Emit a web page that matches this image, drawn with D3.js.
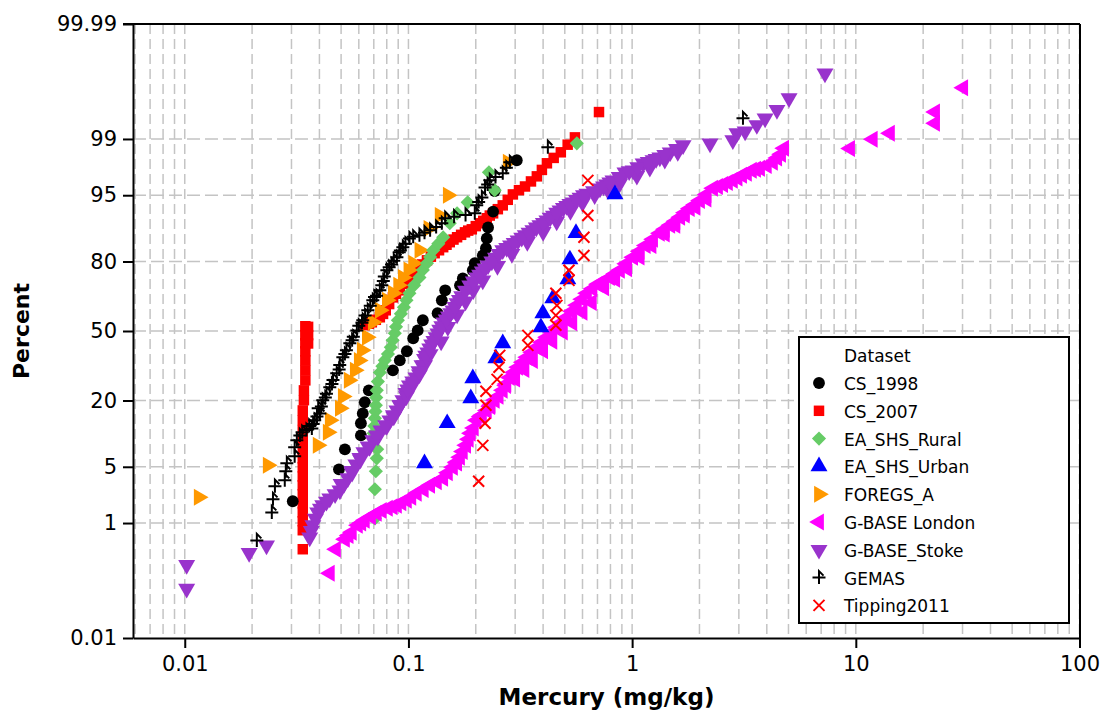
<!DOCTYPE html>
<html>
<head>
<meta charset="utf-8">
<script src="https://cdn.jsdelivr.net/npm/d3@7"></script>
<style>
body { margin: 0; background: #fff; }
text { font-family: "DejaVu Sans", Verdana, sans-serif; }
</style>
</head>
<body>
<div id="chart"></div>
<script>
// each point: [mercury mg/kg, cumulative percent]
var cs1998 = [[0.0304,1.96],[0.0489,4.69],[0.0520,7.59],[0.0613,10.3],[0.0613,13.2],[0.0625,15.9],[0.0638,19.4],[0.0665,23.6],
    [0.0852,31.7],[0.0915,36.1],[0.0984,40.3],[0.105,46.5],[0.110,50.3],[0.116,55.2],[0.135,58.5],[0.141,64.5],[0.146,68.9],
    [0.170,71.0],[0.175,73.8],[0.194,76.9],[0.198,79.4],[0.215,82.0],[0.222,84.2],[0.224,86.9],[0.227,89.5],[0.239,92.6],
    [0.243,95.5],[0.305,98.07]];

var cs2007 = [[0.0337,0.41],[0.0337,0.79],[0.0337,1.06],[0.0337,1.4],[0.0337,1.84],[0.0337,2.4],[0.0337,3.08],[0.0337,3.9],
    [0.0337,4.94],[0.0337,6.15],[0.0337,7.59],[0.0337,9.28],[0.0337,11.5],[0.0337,14.0],[0.0337,16.8],[0.0341,20.1],
    [0.0341,23.6],[0.0346,27.5],[0.0346,31.7],[0.0346,36.1],[0.0346,40.3],[0.0346,44.1],[0.0346,47.9],[0.0346,52.3],
    [0.0356,44.0],[0.0356,48.0],[0.0356,52.0],
    [0.0638,52.8],[0.0686,54.2],[0.0745,56.6],[0.0792,59.9],[0.0852,65.8],[0.0915,68.9],[0.101,74.2],[0.110,77.6],
    [0.121,80.4],[0.131,82.7],[0.143,84.5],[0.153,85.9],[0.165,87.2],[0.179,88.4],[0.192,89.1],[0.209,90.4],[0.224,91.4],
    [0.239,92.3],[0.264,93.6],[0.293,95.1],[0.332,96.0],[0.375,96.95],[0.416,97.89],[0.480,98.48],[0.555,99.05],[0.711,99.60],
    [0.0665,53.5],[0.0715,55.4],[0.077,58.2],[0.082,62.8],[0.088,67.4],[0.096,71.6],[0.105,76.0],[0.115,79.0],[0.126,81.6],
    [0.137,83.6],[0.148,85.2],[0.159,86.6],[0.172,87.8],[0.185,88.8],[0.200,89.8],[0.216,90.9],[0.231,91.9],[0.251,93.0],
    [0.278,94.4],[0.312,95.6],[0.353,96.5],[0.395,97.45],[0.446,98.2],[0.515,98.8]];

var eaRural = [[0.0708,1.16],[0.0708,2.76],[0.0715,4.46],[0.0722,6.15],[0.0725,7.6],[0.0700,10.8],[0.0704,12.5],[0.0708,14.5],
    [0.0712,16.5],[0.0715,18.4],[0.0718,21.0],[0.0722,23.6],[0.0730,27.0],[0.0745,30.8],[0.0765,33.5],[0.0784,36.1],
    [0.0810,39.0],[0.0834,42.2],[0.0850,45.5],[0.0869,48.9],[0.0880,52.0],[0.0897,55.2],[0.0925,58.3],[0.0954,61.3],
    [0.098,64.5],[0.101,67.6],[0.106,71.0],[0.112,74.2],[0.116,77.0],[0.121,79.4],[0.125,81.5],[0.129,83.6],[0.136,85.5],
    [0.143,87.2],[0.153,90.4],[0.165,92.3],[0.184,94.05],[0.243,95.6],[0.229,97.27],[0.566,98.85]];

var eaUrban = [[0.118,5.45],[0.149,13.2],[0.190,20.7],[0.194,28.3],[0.246,37.0],[0.264,44.1],[0.391,51.8],[0.399,58.5],
    [0.442,65.4],[0.516,73.4],[0.527,80.7],[0.561,88.2],[0.838,95.1]];

var foregsA = [[0.01155,2.20],[0.0235,5.19],[0.0393,8.30],[0.0436,11.0],[0.0445,14.0],[0.0494,17.5],[0.0509,21.4],[0.0541,27.5],
    [0.0576,31.7],[0.0600,36.0],[0.0619,40.8],[0.0652,47.0],[0.0693,54.2],[0.0745,59.9],[0.0801,64.5],[0.0852,67.6],
    [0.090,71.0],[0.0944,74.2],[0.100,77.0],[0.105,79.4],[0.112,83.6],[0.123,89.3],[0.138,91.9],[0.150,95.0],[0.278,97.95]];

var gbLondon = [[0.0445,0.167],[0.0474,0.41],[0.0520,0.58],[0.0558,0.74],[0.0594,0.93],[0.0638,1.09],[0.0722,1.36],[0.0809,1.59],
    [0.0888,1.74],[0.0984,2.01],[0.109,2.46],[0.125,3.08],[0.143,3.72],[0.158,4.94],[0.170,6.30],[0.181,8.30],[0.190,10.8],
    [0.202,14.0],[0.224,16.8],[0.243,20.1],[0.264,23.6],[0.284,28.7],[0.309,33.0],[0.339,37.5],[0.375,42.2],[0.416,47.0],
    [0.461,51.8],[0.511,56.6],[0.566,62.2],[0.628,67.6],[0.703,71.4],[0.796,74.2],[0.882,76.9],[1.01,81.4],[1.15,85.0],
    [1.33,88.2],[1.48,90.0],[1.64,91.6],[1.81,93.1],[2.01,94.3],[2.30,95.8],[2.55,96.2],[2.82,96.6],[3.10,97.04],
    [3.43,97.42],[3.73,97.56],[4.26,97.95],[4.63,98.39],[4.78,98.66],
    [0.165,5.5],[0.175,7.2],[0.186,9.5],[0.196,12.0],[0.210,15.0],[0.232,18.0],[0.253,21.5],[0.273,25.5],[0.300,28.0],
    [0.330,32.0],[0.360,36.0],[0.400,40.5],[0.440,45.0],[0.490,49.5],[0.540,54.0],[0.600,59.0],[0.660,63.5],[0.750,70.0],
    [0.840,73.5],[0.950,77.5],[1.08,81.5],[1.22,85.0],[1.40,88.0],[1.56,90.0],[1.72,92.0],[1.92,93.3],[2.15,94.5],
    [0.0540,0.66],[0.0615,1.0],[0.068,1.22],[0.076,1.48],[0.085,1.66],[0.093,1.88],[0.103,2.2],[0.117,2.75],[0.134,3.4],
    [0.150,4.3],[0.164,5.6],[0.213,15.4],[0.233,18.4],[0.274,26.0],[0.296,30.8],[0.324,35.2],[0.357,39.8],[0.395,44.6],
    [0.438,49.4],[0.486,54.2],[0.538,59.4],[0.597,65.0],[0.665,69.6],[0.750,72.8],[0.840,75.6],[0.940,79.2],[1.08,83.3],
    [1.24,86.7],[1.40,89.1],[1.56,90.8],[1.72,92.4],[1.91,93.7],[2.15,95.1],[2.42,96.0],[2.68,96.4],[2.96,96.8],
    [3.26,97.2],[3.58,97.5],[4.00,97.75],[4.45,98.2],
    [9.42,98.65],[11.9,98.99],[14.2,99.17],[22.6,99.41],[22.6,99.60],[30.2,99.84]];

var gbStoke = [[0.0102,0.23],[0.0102,0.090],[0.0194,0.36],[0.0232,0.47],[0.0362,0.62],[0.0374,0.93],[0.0393,1.40],[0.0414,1.74],
    [0.0445,2.13],[0.0494,2.68],[0.0536,3.72],[0.0582,5.32],[0.0632,7.09],[0.0693,9.28],[0.0753,11.45],[0.0826,13.97],
    [0.0888,16.8],[0.0944,20.1],[0.0975,22.7],[0.101,25.5],[0.108,28.7],[0.115,33.9],[0.118,36.8],[0.122,39.8],[0.127,43.5],
    [0.133,47.0],[0.138,50.6],[0.144,54.2],[0.151,57.0],[0.158,59.9],[0.165,63.2],[0.173,66.3],[0.188,71.0],[0.202,74.2],
    [0.214,76.5],[0.227,78.7],[0.245,81.3],[0.264,83.6],[0.286,85.0],[0.309,86.4],[0.333,87.7],[0.360,88.9],[0.387,90.0],
    [0.416,91.0],[0.445,91.9],[0.476,92.8],[0.510,93.5],[0.544,94.05],[0.585,94.7],[0.628,95.2],[0.718,95.8],[0.770,96.2],
    [0.821,96.6],[0.929,97.27],[1.01,97.42],[1.12,97.89],[1.24,98.07],[1.33,98.23],[1.48,98.48],[1.69,98.78],
    [0.050,3.2],[0.056,4.3],[0.061,6.0],[0.067,8.0],[0.073,10.0],[0.080,12.5],[0.086,15.0],[0.092,18.5],[0.098,21.5],
    [0.105,26.0],[0.112,30.0],[0.118,34.0],[0.125,39.0],[0.140,45.0],[0.150,52.0],[0.165,58.0],[0.180,64.0],[0.195,69.0],
    [0.215,73.0],[0.250,78.5],[0.290,82.5],[0.340,86.0],[0.400,88.5],[0.460,90.8],[0.530,92.7],[0.600,94.0],[0.680,95.0],
    [0.780,95.6],[0.880,96.3],[1.05,97.0],[1.20,97.6],[1.40,98.1],[1.60,98.5],
    [0.0368,0.77],[0.0384,1.15],[0.0404,1.57],[0.0430,1.93],[0.047,2.4],[0.0515,3.2],[0.056,4.5],[0.0607,6.2],[0.066,8.1],
    [0.072,10.3],[0.079,12.7],[0.0857,15.4],[0.0916,18.4],[0.0992,24.0],[0.1045,27.1],[0.1115,31.3],[0.1195,38.3],
    [0.1245,41.6],[0.130,45.2],[0.1355,48.8],[0.141,52.4],[0.1475,55.6],[0.1545,58.5],[0.1615,61.5],[0.169,64.7],
    [0.180,68.7],[0.195,72.6],[0.208,75.3],[0.220,77.6],[0.236,80.0],[0.254,82.5],[0.275,84.3],[0.297,85.7],[0.321,87.1],
    [0.346,88.3],[0.373,89.5],[0.401,90.5],[0.430,91.5],[0.460,92.4],[0.493,93.2],[0.527,93.8],[0.564,94.4],[0.606,95.0],
    [0.672,95.5],[0.745,96.0],[0.795,96.4],[0.875,96.9],[0.97,97.35],[1.06,97.65],[1.18,97.98],[1.28,98.15],[1.40,98.35],
    [1.58,98.63],
    [2.23,98.85],[2.82,98.96],[2.94,99.17],[3.20,99.22],[3.61,99.37],[3.93,99.50],[4.44,99.63],[5.03,99.76],[7.28,99.91]];

var gemas = [[0.0210,0.56],[0.0245,1.40],[0.0248,2.07],[0.0253,3.0],[0.0280,3.52],[0.0283,4.46],[0.0286,5.45],[0.0310,6.45],
    [0.0310,7.94],[0.0317,9.28],[0.0327,10.3],[0.0370,11.9],[0.0381,14.0],[0.0402,15.9],[0.0414,20.1],[0.0430,22.4],
    [0.0445,24.8],[0.0460,27.6],[0.0478,30.4],[0.0493,34.0],[0.0509,37.5],[0.0528,40.8],[0.0547,44.1],[0.0567,47.2],
    [0.0588,50.3],[0.0625,55.2],[0.0658,59.9],[0.0693,64.5],[0.0745,68.9],[0.0772,72.8],[0.0801,76.9],[0.0888,81.4],
    [0.0944,84.5],[0.101,86.9],[0.112,87.7],[0.125,88.9],[0.141,90.4],[0.146,91.4],[0.198,92.3],[0.202,93.6],[0.213,94.7],
    [0.220,95.9],[0.231,96.6],[0.264,97.2],[0.284,97.95],[0.420,98.70],[3.13,99.50],
    [0.0395,17.5],[0.0425,21.0],[0.0455,26.0],[0.0490,32.0],[0.0520,39.0],[0.0560,45.5],[0.0600,52.5],[0.0640,57.5],
    [0.0675,62.0],[0.0720,66.5],[0.0780,74.5],[0.0840,79.0],[0.0910,83.0],[0.0970,85.5],
    [0.0335,11.0],[0.0350,11.5],[0.0360,12.5],[0.0375,13.0],[0.0390,15.0],[0.0408,18.0],[0.0620,54.0],[0.0705,66.0],
    [0.0760,71.0],[0.0820,78.0],[0.0860,80.3],[0.0920,83.5],[0.105,87.3],[0.118,88.3],[0.133,89.6],[0.160,91.7],
    [0.180,92.0],[0.206,94.1],[0.226,96.2],[0.245,96.9],[0.274,97.6]];

var tipping2011 = [[0.206,3.43],[0.215,8.30],[0.220,13.2],[0.222,18.4],[0.222,23.3],[0.249,27.9],[0.254,33.0],[0.256,38.4],
    [0.342,43.1],[0.342,47.9],[0.456,52.8],[0.456,57.5],[0.461,62.2],[0.456,67.6],[0.522,73.0],[0.522,76.9],[0.609,82.0],
    [0.609,87.2],[0.634,91.9],[0.634,96.6]];

var seriesNames = ["CS_1998","CS_2007","EA_SHS_Rural","EA_SHS_Urban","FOREGS_A","G-BASE London","G-BASE_Stoke","GEMAS","Tipping2011"];
var seriesData = [cs1998, cs2007, eaRural, eaUrban, foregsA, gbLondon, gbStoke, gemas, tipping2011];
var seriesColors = ["#000000","#ff0000","#66cc66","#0000ff","#ff9900","#ff00ff","#9933cc","#000000","#ff0000"];
var seriesShapes = ["circle","square","diamond","up","right","left","down","plus","cross"];
var drawOrder = [1, 4, 0, 2, 5, 6, 7, 3, 8];

var xTicks = [0.01, 0.1, 1, 10, 100];
var xTickLabels = ["0.01", "0.1", "1", "10", "100"];
var yTicks = [0.01, 1, 5, 20, 50, 80, 95, 99, 99.99];
var yTickLabels = ["0.01", "1", "5", "20", "50", "80", "95", "99", "99.99"];

// inverse normal cdf (Acklam) for the probability axis
function probit(p) {
    var a = [-3.969683028665376e+01, 2.209460984245205e+02, -2.759285104469687e+02, 1.383577518672690e+02, -3.066479806614716e+01, 2.506628277459239e+00];
    var b = [-5.447609879822406e+01, 1.615858368580409e+02, -1.556989798598866e+02, 6.680131188771972e+01, -1.328068155288572e+01];
    var c = [-7.784894002430293e-03, -3.223964580411365e-01, -2.400758277161838e+00, -2.549732539343734e+00, 4.374664141464968e+00, 2.938163982698783e+00];
    var d = [7.784695709041462e-03, 3.224671290700398e-01, 2.445134137142996e+00, 3.754408661907416e+00];
    var q, r;
    if (p < 0.02425) {
        q = Math.sqrt(-2 * Math.log(p));
        return (((((c[0]*q+c[1])*q+c[2])*q+c[3])*q+c[4])*q+c[5]) / ((((d[0]*q+d[1])*q+d[2])*q+d[3])*q+1);
    }
    if (p > 1 - 0.02425) {
        q = Math.sqrt(-2 * Math.log(1 - p));
        return -(((((c[0]*q+c[1])*q+c[2])*q+c[3])*q+c[4])*q+c[5]) / ((((d[0]*q+d[1])*q+d[2])*q+d[3])*q+1);
    }
    q = p - 0.5; r = q * q;
    return (((((a[0]*r+a[1])*r+a[2])*r+a[3])*r+a[4])*r+a[5])*q / (((((b[0]*r+b[1])*r+b[2])*r+b[3])*r+b[4])*r+1);
}

var svgWidth = 1103, svgHeight = 714;
var plotL = 133, plotR = 1080, plotT = 24, plotB = 638;

var svg = d3.select("#chart").append("svg")
    .attr("width", svgWidth)
    .attr("height", svgHeight);

var x = d3.scaleLog().domain([0.00587, 100]).range([plotL, 1079.5]);
var yz = d3.scaleLinear().domain([probit(0.0001), probit(0.9999)]).range([plotB, plotT]);
function yPos(pct) { return yz(probit(pct / 100)); }

// grid
svg.append("g").selectAll("line")
    .data(x.ticks())
    .join("line")
    .attr("x1", function(d){ return x(d); })
    .attr("x2", function(d){ return x(d); })
    .attr("y1", plotT).attr("y2", plotB)
    .attr("stroke", "#c4c4c4").attr("stroke-width", 1.5)
    .attr("stroke-dasharray", "10,5");

svg.append("g").selectAll("line")
    .data(yTicks.slice(1, -1))
    .join("line")
    .attr("x1", plotL).attr("x2", plotR)
    .attr("y1", function(d){ return yPos(d); })
    .attr("y2", function(d){ return yPos(d); })
    .attr("stroke", "#c4c4c4").attr("stroke-width", 1.5)
    .attr("stroke-dasharray", "13,5");

// markers
var symArea = { circle: 110, square: 110, diamond: 100, tri: 125 };
function shapePath(shape) {
    if (shape === "circle") return d3.symbol(d3.symbolCircle, symArea.circle)();
    if (shape === "square") return d3.symbol(d3.symbolSquare, symArea.square)();
    if (shape === "diamond") return d3.symbol(d3.symbolSquare, symArea.diamond)();
    if (shape === "plus") return "M-6.5,0L6.5,0M0,6.5L0,-6.5L4.5,-2";
    if (shape === "cross") return "M-5.5,-5.5L5.5,5.5M-5.5,5.5L5.5,-5.5";
    return d3.symbol(d3.symbolTriangle, symArea.tri)();
}
function shapeRotate(shape) {
    return { diamond: 45, right: 90, left: -90, down: 180 }[shape] || 0;
}
function isStroke(shape) { return shape === "plus" || shape === "cross"; }

function drawMark(g, shape, color, px, py) {
    var p = g.append("path")
        .attr("d", shapePath(shape))
        .attr("transform", "translate(" + px + "," + py + ") rotate(" + shapeRotate(shape) + ")");
    if (isStroke(shape)) {
        p.attr("fill", "none").attr("stroke", color).attr("stroke-width", 2);
    } else {
        p.attr("fill", color);
    }
}

drawOrder.forEach(function(i) {
    var g = svg.append("g").attr("class", "series");
    seriesData[i].forEach(function(d) {
        drawMark(g, seriesShapes[i], seriesColors[i], x(d[0]), yPos(d[1]));
    });
});

// axes
var xAxis = svg.append("g")
    .attr("transform", "translate(0," + plotB + ")")
    .call(d3.axisBottom(x).tickValues(xTicks).tickFormat(function(d, i){ return xTickLabels[i]; })
        .tickSize(10).tickSizeOuter(0).tickPadding(8));

var yAxis = svg.append("g")
    .attr("transform", "translate(" + plotL + ",0)")
    .call(d3.axisLeft(yz).tickValues(yTicks.map(function(p){ return probit(p / 100); }))
        .tickFormat(function(d, i){ return yTickLabels[i]; })
        .tickSize(10).tickSizeOuter(0).tickPadding(6));

[xAxis, yAxis].forEach(function(a) {
    a.selectAll(".tick line").attr("stroke", "#000").attr("stroke-width", 2);
    a.select(".domain").attr("stroke", "#000").attr("stroke-width", 2);
    a.selectAll(".tick text").attr("font-size", 21).attr("fill", "#000")
        .attr("font-family", "'DejaVu Sans', Verdana, sans-serif");
});

// frame top / right
svg.append("line").attr("x1", plotL - 10).attr("x2", plotR).attr("y1", plotT).attr("y2", plotT)
    .attr("stroke", "#000").attr("stroke-width", 2);
svg.append("line").attr("x1", plotR).attr("x2", plotR).attr("y1", plotT).attr("y2", plotB)
    .attr("stroke", "#000").attr("stroke-width", 2);

// axis titles
svg.append("text")
    .attr("x", (plotL + plotR) / 2).attr("y", 705)
    .attr("text-anchor", "middle").attr("font-size", 23).attr("font-weight", "bold")
    .text("Mercury (mg/kg)");

svg.append("text")
    .attr("transform", "translate(29," + ((plotT + plotB) / 2) + ") rotate(-90)")
    .attr("text-anchor", "middle").attr("font-size", 22).attr("font-weight", "bold")
    .text("Percent");

// legend
var lg = svg.append("g").attr("transform", "translate(799,337)");
lg.append("rect").attr("width", 270).attr("height", 286)
    .attr("fill", "#fff").attr("stroke", "#000").attr("stroke-width", 2);
lg.append("text").attr("x", 45).attr("y", 25).attr("font-size", 17).text("Dataset");
seriesNames.forEach(function(name, i) {
    var cy = 46 + i * 27.8;
    drawMark(lg, seriesShapes[i], seriesColors[i], 20, cy);
    lg.append("text").attr("x", 45).attr("y", cy + 7).attr("font-size", 17).text(name);
});
</script>
</body>
</html>
